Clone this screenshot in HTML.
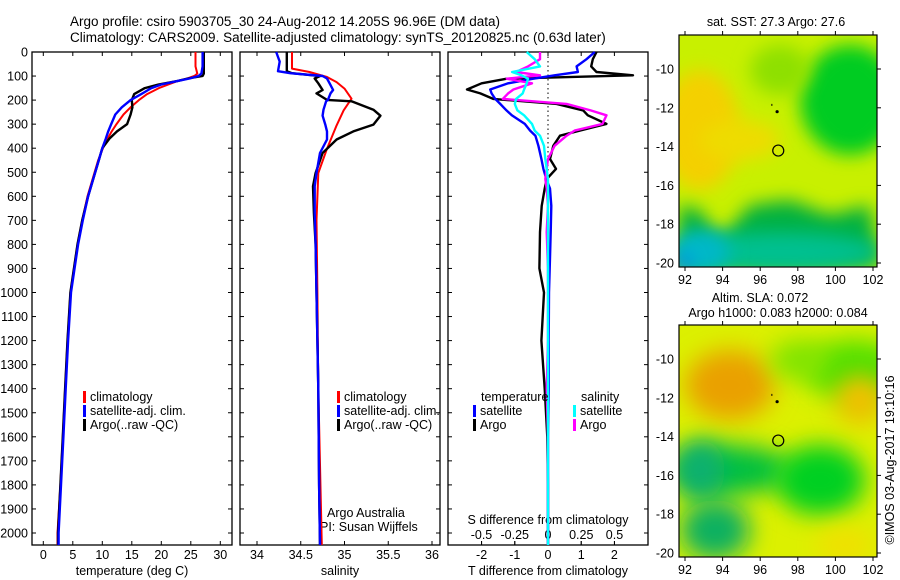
<!DOCTYPE html>
<html><head><meta charset="utf-8"><style>
html,body{margin:0;padding:0;background:#fff;}
svg{display:block;font-family:"Liberation Sans",sans-serif;}
text{font-size:12.5px;fill:#000;}
</style></head><body>
<svg id="chart" width="900" height="580" viewBox="0 0 900 580" xmlns="http://www.w3.org/2000/svg">
<defs>
<filter id="blur1" filterUnits="userSpaceOnUse" x="600" y="0" width="300" height="600"><feGaussianBlur stdDeviation="9"/></filter>
<filter id="blur2" filterUnits="userSpaceOnUse" x="600" y="0" width="300" height="600"><feGaussianBlur stdDeviation="12"/></filter>
<clipPath id="cm1"><rect x="679" y="35" width="198" height="232"/></clipPath>
<clipPath id="cm2"><rect x="679" y="325" width="198" height="232"/></clipPath>
</defs>
<text x="70" y="26" style="font-size:13.5px">Argo profile: csiro 5903705_30 24-Aug-2012 14.205S 96.96E (DM data)</text>
<text x="70" y="42" style="font-size:13.5px">Climatology: CARS2009. Satellite-adjusted climatology: synTS_20120825.nc (0.63d later)</text>

<g id="map1" clip-path="url(#cm1)">
<rect x="679" y="35" width="198" height="232" fill="#c8f000"/>
<ellipse cx="700" cy="130" rx="40" ry="60" fill="#f4d000" filter="url(#blur1)"/>
<ellipse cx="740" cy="140" rx="40" ry="20" fill="#eedc00" filter="url(#blur1)"/>
<ellipse cx="850" cy="100" rx="50" ry="55" fill="#00cc20" filter="url(#blur1)"/>
<ellipse cx="780" cy="70" rx="30" ry="25" fill="#8ee000" filter="url(#blur1)"/>
<path d="M679 205 L700 210 L720 240 L750 205 L790 200 L830 215 L870 205 L880 267 L679 267 Z" fill="#00b040" filter="url(#blur1)"/>
<ellipse cx="780" cy="252" rx="100" ry="20" fill="#00c090" filter="url(#blur1)"/>
<ellipse cx="700" cy="252" rx="30" ry="22" fill="#00b8c8" filter="url(#blur1)"/>
<ellipse cx="682" cy="264" rx="9" ry="9" fill="#0088f0" filter="url(#blur1)"/>
</g>
<rect x="679" y="35" width="198" height="232" fill="none" stroke="#000" stroke-width="1.2"/>
<text x="776" y="26" text-anchor="middle">sat. SST: 27.3 Argo: 27.6</text>

<g id="map2" clip-path="url(#cm2)">
<rect x="679" y="325" width="198" height="232" fill="#dcf000"/>
<ellipse cx="730" cy="385" rx="45" ry="35" fill="#eaa000" filter="url(#blur2)"/>
<ellipse cx="855" cy="370" rx="50" ry="30" fill="#50e000" filter="url(#blur2)"/>
<ellipse cx="800" cy="360" rx="30" ry="20" fill="#80e400" filter="url(#blur2)"/>
<ellipse cx="860" cy="400" rx="25" ry="25" fill="#f0c000" filter="url(#blur2)"/>
<ellipse cx="730" cy="470" rx="60" ry="25" fill="#00c040" filter="url(#blur2)"/>
<ellipse cx="820" cy="480" rx="45" ry="35" fill="#00d020" filter="url(#blur2)"/>
<ellipse cx="700" cy="470" rx="25" ry="30" fill="#10b070" filter="url(#blur2)"/>
<ellipse cx="715" cy="530" rx="35" ry="30" fill="#10b060" filter="url(#blur2)"/>
<ellipse cx="845" cy="545" rx="30" ry="18" fill="#f0e000" filter="url(#blur2)"/>
</g>
<rect x="679" y="325" width="198" height="232" fill="none" stroke="#000" stroke-width="1.2"/>
<text x="760" y="302" text-anchor="middle">Altim. SLA: 0.072</text>
<text x="778" y="317" text-anchor="middle">Argo h1000: 0.083 h2000: 0.084</text>
<text transform="translate(894,460) rotate(-90)" text-anchor="middle">©IMOS 03-Aug-2017 19:10:16</text>
<g id="axes"></g>
</svg>
<script>
const tDepth = [0,60,90,100,110,120,135,150,175,200,230,260,300,330,360,400,450,500,600,700,800,1000,1200,1400,1600,1800,2000,2050];
const tArgo  = [27.2,27.2,27.2,27.0,24.5,22.8,19.5,17.2,15.4,15.0,15.1,14.8,14.2,12.5,11.2,10.0,9.4,8.8,7.6,6.6,5.8,4.6,4.1,3.7,3.3,2.9,2.5,2.5];
const tSat   = [27.0,27.0,26.8,26.3,24.8,22.8,20.0,18.3,16.6,14.8,13.3,12.2,11.5,11.0,10.6,10.0,9.4,8.8,7.6,6.7,5.9,4.7,4.2,3.8,3.4,3.0,2.6,2.6];
const tClim  = [25.8,25.8,26.1,25.6,24.4,22.8,21.2,19.6,17.6,16.2,14.8,13.6,12.4,11.6,10.9,10.1,9.3,8.7,7.5,6.6,5.8,4.6,4.1,3.7,3.3,2.9,2.4,2.4];

const sDepth = [0,40,80,88,100,110,130,158,172,199,205,240,265,302,330,364,420,503,558,670,800,1000,1400,1800,2050];
const sArgo  = [34.34,34.34,34.34,34.40,34.72,34.66,34.70,34.75,34.68,34.80,35.08,35.33,35.41,35.33,35.10,34.91,34.75,34.67,34.64,34.65,34.67,34.68,34.70,34.71,34.72];
const sSat   = [34.22,34.26,34.24,34.38,34.75,34.80,34.83,34.87,34.84,34.81,34.79,34.76,34.75,34.78,34.80,34.80,34.72,34.68,34.66,34.66,34.67,34.68,34.70,34.71,34.72];
const sClimD = [0,69,83,104,125,152,194,243,305,402,503,700,1000,1400,2050];
const sClim  = [34.40,34.40,34.60,34.80,34.91,35.00,35.08,34.99,34.91,34.80,34.70,34.68,34.69,34.70,34.74];

const dDepth = [0,30,60,83,97,111,130,156,172,195,216,243,263,299,327,348,390,445,486,528,568,640,749,900,1000,1200,1400,1600,1800,2050];
const dTArgo = [1.46,1.35,1.30,1.46,2.56,-1.24,-2.0,-2.44,-2.04,-1.65,0.26,1.06,1.2,1.76,0.96,0.36,0.16,0.06,0.24,-0.04,-0.1,-0.19,-0.24,-0.26,-0.12,-0.2,-0.1,-0.02,0.0,0.0];
const dTSat  = [1.41,1.16,0.86,0.9,0.2,-0.44,-1.2,-1.74,-1.70,-1.59,-1.44,-1.25,-1.09,-0.70,-0.54,-0.38,-0.29,-0.2,-0.14,-0.05,0.06,0.1,0.08,0.05,0.03,0.02,0.02,0.0,0.0,0.0];
const dSArgo = [-0.06,-0.06,-0.15,-0.24,-0.06,-0.31,-0.12,-0.26,-0.30,-0.34,0.14,0.32,0.44,0.41,0.20,0.14,0.05,0.0,-0.01,-0.02,-0.01,0.0,-0.01,0.0,0.0,0.0,-0.01,0.0,0.0,0.0];
const dSSat  = [-0.16,-0.10,-0.06,-0.27,-0.20,-0.15,-0.16,-0.18,-0.19,-0.24,-0.25,-0.23,-0.18,-0.12,-0.10,-0.06,-0.03,-0.02,-0.01,0.0,0.0,0.0,0.0,0.0,0.0,0.0,0.0,0.0,0.0,0.0];

const depthTicks = [0,100,200,300,400,500,600,700,800,900,1000,1100,1200,1300,1400,1500,1600,1700,1800,1900,2000];
const tTicks = [0,5,10,15,20,25,30];
const sTicks = [34,34.5,35,35.5,36];
const dtTicks = [-2,-1,0,1,2];
const dsTicks = [-0.5,-0.25,0,0.25,0.5];
const dsTickLabels = ["-0.5","-0.25","0","0.25","0.5"];
const lonTicks = [92,94,96,98,100,102];
const latTicks = [-10,-12,-14,-16,-18,-20];
const argoPos = [96.96,-14.205];

const TOP=52, BOT=545;
const yD = d => TOP + d*0.2405;
const xT = t => 43.3 + t*5.9;
const xS = s => 257 + (s-34)*87.5;
const xDT = v => 548 + v*33.2;
const xDS = v => 548 + v*133;
const mx = lon => 685 + (lon-92)*18.8;
const my1 = lat => 69 + (-10-lat)*19.4;
const my2 = lat => 359 + (-10-lat)*19.4;

const NS='http://www.w3.org/2000/svg';
const g = document.getElementById('axes');
function mk(tag, attrs, parent){const e=document.createElementNS(NS,tag);for(const k in attrs)e.setAttribute(k,attrs[k]);(parent||g).appendChild(e);return e;}
function txt(x,y,s,anchor){const e=mk('text',{x:x,y:y,'text-anchor':anchor||'start'});e.textContent=s;return e;}

const panels=[[32,232],[240,440],[448,648]];
panels.forEach((p,i)=>{
  const r=mk('rect',{x:p[0],y:TOP,width:p[1]-p[0],height:BOT-TOP,fill:'none',stroke:'#000','stroke-width':1.3});
  
  
  depthTicks.forEach(d=>{
    mk('line',{x1:p[0],x2:p[0]+4,y1:yD(d),y2:yD(d),stroke:'#000'});
    mk('line',{x1:p[1]-4,x2:p[1],y1:yD(d),y2:yD(d),stroke:'#000'});
  });
});
depthTicks.forEach(d=>{
  const e=txt(28,yD(d)+4.5,String(d),'end');
  
  
});
function xAxis(ticks,fx,p,labels){
  ticks.forEach((t,i)=>{
    mk('line',{x1:fx(t),x2:fx(t),y1:BOT,y2:BOT-4,stroke:'#000'});
    mk('line',{x1:fx(t),x2:fx(t),y1:TOP,y2:TOP+4,stroke:'#000'});
    const e=txt(fx(t),BOT+14,labels?labels[i]:String(t),'middle');
    
    
  });
}
xAxis(tTicks,xT,panels[0]);
xAxis(sTicks,xS,panels[1]);
xAxis(dtTicks,xDT,panels[2]);
dsTicks.forEach((t,i)=>{
  mk('line',{x1:xDS(t),x2:xDS(t),y1:BOT,y2:BOT-4,stroke:'#000'});
  const e=txt(xDS(t),539,dsTickLabels[i],'middle');
  
  
});
let e;
e=txt(132,575,'temperature (deg C)','middle');
e=txt(340,575,'salinity','middle');
e=txt(548,575,'T difference from climatology','middle');
e=txt(548,524,'S difference from climatology','middle');
e=txt(327,517,'Argo Australia');
e=txt(320,531,'PI: Susan Wijffels');

e=mk('line',{x1:xDT(0),x2:xDT(0),y1:TOP,y2:BOT,stroke:'#000','stroke-dasharray':'1.5,3'});



function series(depths,vals,fx,color,w,name){
  const pts=depths.map((d,i)=>fx(vals[i]).toFixed(1)+','+yD(d).toFixed(1)).join(' ');
  const pl=mk('polyline',{points:pts,fill:'none',stroke:color,'stroke-width':w,'stroke-linejoin':'round'});
  
  
}
series(tDepth,tClim,xT,'#ff0000',2,'temp-climatology-line');
series(tDepth,tArgo,xT,'#000',2.4,'temp-argo-line');
series(tDepth,tSat,xT,'#0000ff',2.4,'temp-satellite-line');
series(sClimD,sClim,xS,'#ff0000',2,'sal-climatology-line');
series(sDepth,sArgo,xS,'#000',2.4,'sal-argo-line');
series(sDepth,sSat,xS,'#0000ff',2.4,'sal-satellite-line');
series(dDepth,dTArgo,xDT,'#000',2.4,'tdiff-argo-line');
series(dDepth,dTSat,xDT,'#0000ff',2.4,'tdiff-satellite-line');
series(dDepth,dSArgo,xDS,'#ff00ff',2.4,'sdiff-argo-line');
series(dDepth,dSSat,xDS,'#00ffff',2.4,'sdiff-satellite-line');

function legend(x,y,color,label){
  const r=mk('rect',{x:x,y:y-10,width:3,height:12,fill:color});
  
  
  const t=txt(x+7,y,label);
  
  
}
legend(83,401,'#ff0000','climatology');
legend(83,415,'#0000ff','satellite-adj. clim.');
legend(83,429,'#000','Argo(..raw -QC)');
legend(337,401,'#ff0000','climatology');
legend(337,415,'#0000ff','satellite-adj. clim.');
legend(337,429,'#000','Argo(..raw -QC)');
e=txt(481,401,'temperature');
e=txt(581,401,'salinity');
legend(473,415,'#0000ff','satellite');
legend(473,429,'#000','Argo');
legend(573,415,'#00ffff','satellite');
legend(573,429,'#ff00ff','Argo');

[[my1,35,267],[my2,325,557]].forEach((m,k)=>{
  const [fy,t,b]=m;
  lonTicks.forEach(l=>{
    mk('line',{x1:mx(l),x2:mx(l),y1:b,y2:b+4,stroke:'#000'});
    mk('line',{x1:mx(l),x2:mx(l),y1:t,y2:t-4,stroke:'#000'});
    const e=txt(mx(l),b+17,String(l),'middle');
    
    
  });
  latTicks.forEach(l=>{
    mk('line',{x1:877,x2:881,y1:fy(l),y2:fy(l),stroke:'#000'});
    const e=txt(674,fy(l)+4.5,String(l),'end');
    
    
  });
  const c=mk('circle',{cx:mx(argoPos[0]),cy:fy(argoPos[1]),r:5.5,fill:'none',stroke:'#000','stroke-width':1.2});
  
  
  mk('circle',{cx:mx(96.9),cy:fy(-12.2),r:1.6,fill:'#000'});
  mk('rect',{x:mx(96.62)-0.5,y:fy(-11.85)-1,width:1,height:2,fill:'#000'});
});
</script>
</body></html>
